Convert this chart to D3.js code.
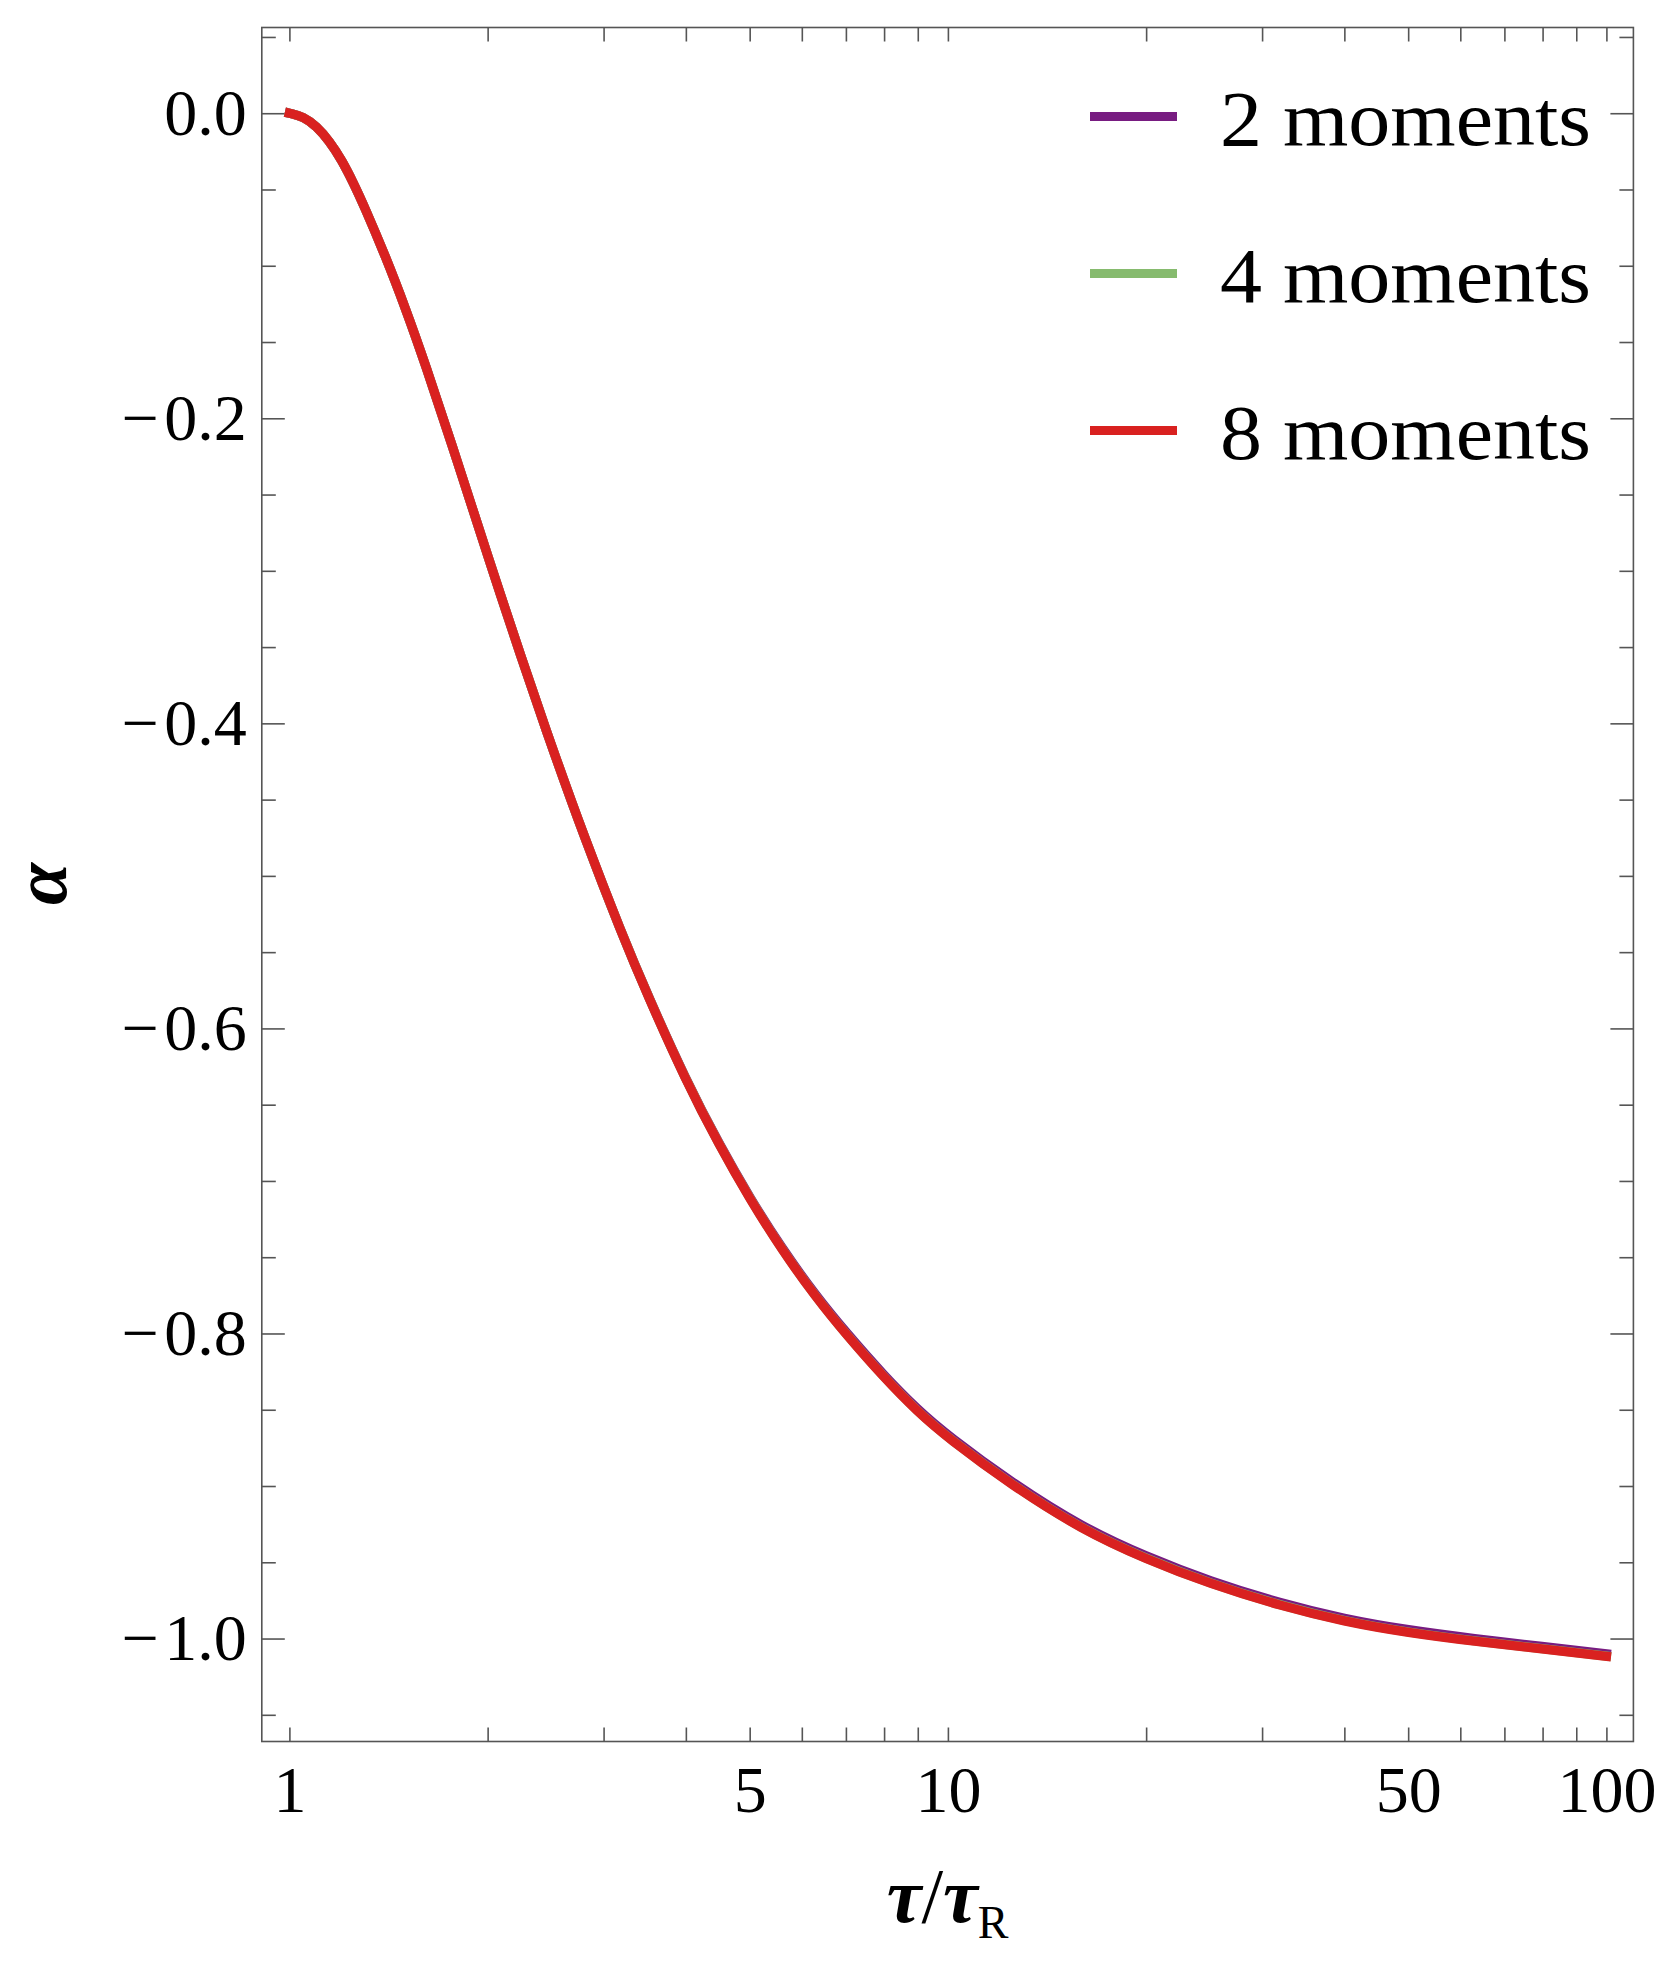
<!DOCTYPE html>
<html>
<head>
<meta charset="utf-8">
<script src="https://cdn.jsdelivr.net/npm/d3@7"></script>
<style>
  body { margin: 0; background: #fff; }
  svg text { font-family: "Liberation Serif", "DejaVu Serif", serif; fill: #000; }
</style>
</head>
<body>
<div id="chart"></div>
<script>
// tau / tau_R grid shared by the three curves
const tau = [1, 1.05, 1.1, 1.15, 1.2, 1.25, 1.3, 1.4, 1.5, 1.6, 1.8, 2, 2.25, 2.5, 2.8, 3.2, 3.5, 4, 4.5, 5,
    5.6, 6.3, 7, 8, 9, 10, 12.5, 16, 20, 25, 32, 40, 50, 63, 80, 100];

const alpha2 = [0, -0.0022, -0.0086, -0.0183, -0.0305, -0.0454, -0.0613, -0.094, -0.1277, -0.1616, -0.2285,
    -0.2901, -0.3571, -0.4147, -0.4739, -0.5384, -0.5782, -0.6338, -0.6763, -0.7109, -0.7444, -0.7751,
    -0.7992, -0.8276, -0.8500, -0.8669, -0.8978, -0.9271, -0.9463, -0.9625, -0.9769, -0.9872, -0.9945,
    -1.0001, -1.0052, -1.01];

const alpha4 = [0, -0.0022, -0.0086, -0.0183, -0.0305, -0.0454, -0.0613, -0.094, -0.1277, -0.1616, -0.2285,
    -0.2901, -0.3571, -0.4147, -0.4739, -0.5385, -0.5784, -0.6341, -0.6768, -0.7115, -0.7452, -0.776,
    -0.8003, -0.8288, -0.8513, -0.8683, -0.8993, -0.9286, -0.9478, -0.964, -0.9784, -0.9887, -0.996,
    -1.0016, -1.0067, -1.0115];

const alpha8 = [0, -0.0022, -0.0086, -0.0183, -0.0305, -0.0454, -0.0613, -0.094, -0.1277, -0.1616, -0.2285,
    -0.2901, -0.3571, -0.4147, -0.4739, -0.5385, -0.5785, -0.6343, -0.677, -0.7117, -0.7454, -0.7762,
    -0.8005, -0.829, -0.8515, -0.8685, -0.8995, -0.9288, -0.948, -0.9642, -0.9786, -0.9889, -0.9962,
    -1.0018, -1.0069, -1.0117];

const seriesNames = ["2 moments", "4 moments", "8 moments"];
const seriesColors = ["#781c81", "#86bb6e", "#d92120"];

const xMajor = [1, 5, 10, 50, 100];
const xMinor = [2, 3, 4, 6, 7, 8, 9, 20, 30, 40, 60, 70, 80, 90];
const yMajor = [0, -0.2, -0.4, -0.6, -0.8, -1.0];
const yMinor = [0.05, -0.05, -0.1, -0.15, -0.25, -0.3, -0.35, -0.45, -0.5, -0.55, -0.65, -0.7, -0.75,
    -0.85, -0.9, -0.95, -1.05];

const width = 1661;
const height = 1964;
const margin = { top: 27.5, right: 27.6, bottom: 222.5, left: 261.8 };
const frameColor = "#555";

const svg = d3.select("#chart")
    .append("svg")
    .attr("width", width)
    .attr("height", height);

const x = d3.scaleLog()
    .domain([0.908, 109.9])
    .range([margin.left, width - margin.right]);

const y = d3.scaleLinear()
    .domain([-1.0675, 0.0562])
    .range([height - margin.bottom, margin.top]);

// frame
svg.append("rect")
    .attr("x", margin.left)
    .attr("y", margin.top)
    .attr("width", width - margin.left - margin.right)
    .attr("height", height - margin.top - margin.bottom)
    .attr("fill", "none")
    .attr("stroke", frameColor)
    .attr("stroke-width", 1.6);

function styleAxis(g) {
    g.select(".domain").remove();
    g.selectAll("line").attr("stroke", frameColor).attr("stroke-width", 1.6);
    g.attr("font-family", null).attr("font-size", 66);
}

const bottomY = height - margin.bottom;
const rightX = width - margin.right;
// minus sign gets a hair space, like the TeX labels
const yFormat = d => d3.format(".1f")(d).replace("−", "−\u200a");

// bottom axis with labels
svg.append("g")
    .attr("transform", `translate(0, ${bottomY})`)
    .call(d3.axisBottom(x).tickValues(xMajor).tickFormat(d3.format("d"))
        .tickSize(-14).tickSizeOuter(0).tickPadding(23.6))
    .call(styleAxis);
svg.append("g")
    .attr("transform", `translate(0, ${bottomY})`)
    .call(d3.axisBottom(x).tickValues(xMinor).tickFormat("").tickSize(-14).tickSizeOuter(0))
    .call(styleAxis);

// top mirror
svg.append("g")
    .attr("transform", `translate(0, ${margin.top})`)
    .call(d3.axisTop(x).tickValues(xMajor.concat(xMinor)).tickFormat("").tickSize(-14).tickSizeOuter(0))
    .call(styleAxis);

// left axis with labels
svg.append("g")
    .attr("transform", `translate(${margin.left}, 0)`)
    .call(d3.axisLeft(y).tickValues(yMajor).tickFormat(yFormat)
        .tickSize(-23).tickSizeOuter(0).tickPadding(15))
    .call(styleAxis);
svg.append("g")
    .attr("transform", `translate(${margin.left}, 0)`)
    .call(d3.axisLeft(y).tickValues(yMinor).tickFormat("").tickSize(-14).tickSizeOuter(0))
    .call(styleAxis);

// right mirror
svg.append("g")
    .attr("transform", `translate(${rightX}, 0)`)
    .call(d3.axisRight(y).tickValues(yMajor).tickFormat("").tickSize(-23).tickSizeOuter(0))
    .call(styleAxis);
svg.append("g")
    .attr("transform", `translate(${rightX}, 0)`)
    .call(d3.axisRight(y).tickValues(yMinor).tickFormat("").tickSize(-14).tickSizeOuter(0))
    .call(styleAxis);

// curves, 8 moments drawn last
const series = [alpha2, alpha4, alpha8];
const line = d3.line()
    .x((d, i) => x(tau[i]))
    .y(d => y(d))
    .curve(d3.curveBasis);

svg.append("g")
    .selectAll("path")
    .data(series)
    .enter()
    .append("path")
    .attr("d", line)
    .attr("fill", "none")
    .attr("stroke", (d, i) => seriesColors[i])
    .attr("stroke-width", 9.3)
    .attr("stroke-linecap", "square");

// legend
const legend = svg.append("g")
    .selectAll("g")
    .data(seriesNames)
    .enter()
    .append("g")
    .attr("transform", (d, i) => `translate(1090, ${116.5 + i * 157})`);

legend.append("line")
    .attr("x1", 0)
    .attr("x2", 87)
    .attr("stroke", (d, i) => seriesColors[i])
    .attr("stroke-width", 9);

legend.append("text")
    .attr("x", 130)
    .attr("y", 28.5)
    .attr("font-size", 78)
    .attr("textLength", 371)
    .attr("lengthAdjust", "spacingAndGlyphs")
    .text(d => d);

// axis titles
const xTitle = svg.append("text")
    .attr("x", (margin.left + rightX) / 2)
    .attr("y", 1922)
    .attr("text-anchor", "middle")
    .attr("font-size", 78);
xTitle.append("tspan").attr("font-style", "italic").attr("font-weight", "bold").text("τ");
xTitle.append("tspan").text("/");
xTitle.append("tspan").attr("font-style", "italic").attr("font-weight", "bold").text("τ");
xTitle.append("tspan").attr("font-size", 46).attr("dy", 16).text("R");

svg.append("text")
    .attr("transform", "translate(66, 884) rotate(-90)")
    .attr("text-anchor", "middle")
    .attr("font-size", 76)
    .attr("font-style", "italic")
    .attr("font-weight", "bold")
    .text("α");
</script>
</body>
</html>
